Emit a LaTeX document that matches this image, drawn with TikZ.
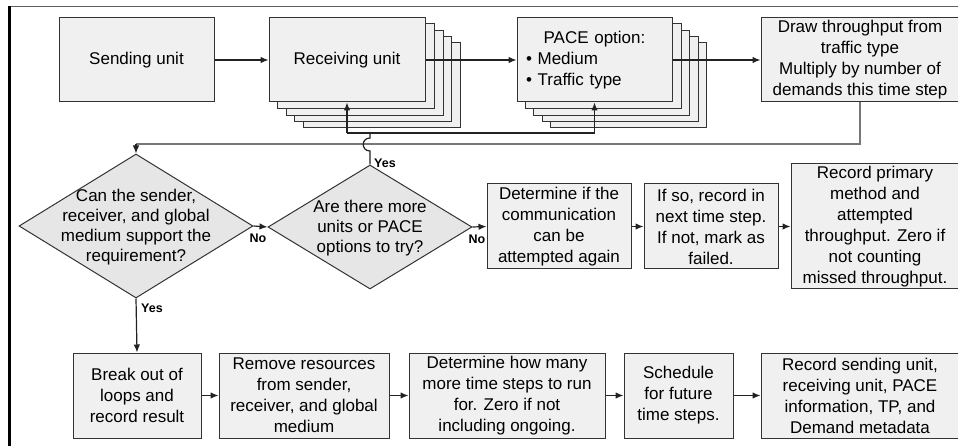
\documentclass[tikz,border=0pt]{standalone}
\usepackage{fontspec}
\setmainfont{Liberation Sans}
\usetikzlibrary{shapes.geometric,arrows.meta,calc}
\pgfdeclarelayer{background}
\pgfsetlayers{background,main}
\definecolor{boxline}{HTML}{333333}
\definecolor{boxfill}{HTML}{F0F0F0}
\definecolor{diafill}{HTML}{E6E6E6}
\definecolor{lineclr}{HTML}{222222}
\definecolor{loopclr}{HTML}{777777}
\begin{document}
\begin{tikzpicture}[x=1pt,y=-1pt,
  box/.style={draw=boxline, fill=boxfill, line width=1pt, inner sep=0pt, align=center,
    font=\fontsize{17}{21}\selectfont},
  dia/.style={diamond, draw=boxline, fill=diafill, line width=1pt, inner sep=0pt},
  diatext/.style={align=center, font=\fontsize{17}{20}\selectfont, inner sep=0pt},
  conn/.style={draw=lineclr, line width=1.2pt},
  arr/.style={conn, -{Latex[length=8pt,width=6.5pt]}},
  yn/.style={font=\fontsize{12.5}{14}\selectfont\bfseries, text=black, inner sep=0pt}
]
\useasboundingbox (0,0) rectangle (958,446);
\clip (0,0) rectangle (958,446);

% top row
\node[box, minimum width=155pt, minimum height=84pt] (send) at (136.5,60) {Sending unit};
\node[box, minimum width=156pt, minimum height=84pt] (rec) at (347,60) {Receiving unit};
\node[box, minimum width=155pt, minimum height=84pt, text width=137pt] (pace) at (594.5,60)
  {\centering PACE option:\par\raggedright • Medium\par • Traffic type\par};
\node[box, minimum width=198pt, minimum height=84pt] (draw) at (860,60)
  {Draw throughput from\\traffic type\\Multiply by number of\\demands this time step};

% background, frame and stacks behind
\begin{pgfonlayer}{background}
  \fill[white] (0,0) rectangle (958,446);
  \draw[loopclr!80!black, line width=1pt] (9.5,7) -- (960,7);
  \draw[black, line width=2.4pt] (9.5,6.5) -- (9.5,450);
  \foreach \k in {4,3,2,1}{
    \draw[draw=boxline, fill=boxfill, line width=1pt]
      ([shift={(8.8*\k,6.3*\k)}]rec.north west) rectangle ([shift={(8.8*\k,6.3*\k)}]rec.south east);
    \draw[draw=boxline, fill=boxfill, line width=1pt]
      ([shift={(8.6*\k,6.3*\k)}]pace.north west) rectangle ([shift={(8.6*\k,6.3*\k)}]pace.south east);
  }
\end{pgfonlayer}

% diamonds
\node[dia, minimum width=234pt, minimum height=144pt] (d1) at (136,226) {};
\node[diatext] (d1t) at (136,227) {Can the sender,\\receiver, and global\\medium support the\\requirement?};
\node[dia, minimum width=204pt, minimum height=124pt] (d2) at (370,227) {};
\node[diatext] (d2t) at (370,228) {Are there more\\units or PACE\\options to try?};

% middle row
\node[box, minimum width=144pt, minimum height=85pt] (det) at (559,226.5)
  {Determine if the\\communication\\can be\\attempted again};
\node[box, minimum width=134pt, minimum height=85pt] (ifso) at (711,226.5)
  {If so, record in\\next time step.\\If not, mark as\\failed.};
\node[box, minimum width=168pt, minimum height=125pt] (prim) at (875,226.5)
  {Record primary\\method and\\attempted\\throughput. Zero if\\not counting\\missed throughput.};

% bottom row
\node[box, minimum width=128pt, minimum height=85pt] (brk) at (137,395.5)
  {Break out of\\loops and\\record result};
\node[box, minimum width=170pt, minimum height=85pt] (rem) at (304,395.5)
  {Remove resources\\from sender,\\receiver, and global\\medium};
\node[box, minimum width=196pt, minimum height=85pt] (hmany) at (507,395.5)
  {Determine how many\\more time steps to run\\for. Zero if not\\including ongoing.};
\node[box, minimum width=109pt, minimum height=85pt] (sched) at (678.5,395.5)
  {Schedule\\for future\\time steps.};
\node[box, minimum width=198pt, minimum height=85pt] (rsend) at (860,395.5)
  {Record sending unit,\\receiving unit, PACE\\information, TP, and\\Demand metadata};

% helper coordinates
\coordinate (loopy) at (0,144);
\coordinate (yesy) at (0,133);
\coordinate (hopA) at (370,151);
\coordinate (hopB) at (370,138);

% connectors top row
\draw[arr] (send.east) -- (rec.west);
\draw[arr] (rec.east) -- (pace.west);
\draw[arr] (pace.east) -- (draw.west);

% main loop back
\draw[conn, draw=loopclr] (draw.south) -- (draw.south |- loopy) -- (d1.north |- loopy);
\draw[arr] (d1.north |- loopy) -- (d1.north);

% yes loop from d2
\draw[conn] (d2.north) -- (hopA) .. controls +(-9,0) and +(-9,0) .. (hopB) -- (d2.north |- yesy);
\draw[conn] (rec.south |- yesy) -- (pace.south |- yesy);
\draw[arr] (rec.south |- yesy) -- (rec.south);
\draw[arr] (pace.south |- yesy) -- (pace.south);

% decisions
\draw[arr] (d1.east) -- (d2.west);
\draw[arr] (d2.east) -- (det.west);
\draw[arr] (det.east) -- (ifso.west);
\draw[arr] (ifso.east) -- (prim.west);
\draw[arr] (d1.south) -- (brk.north);

% bottom row
\draw[arr] (brk.east) -- (rem.west);
\draw[arr] (rem.east) -- (hmany.west);
\draw[arr] (hmany.east) -- (sched.west);
\draw[arr] (sched.east) -- (rsend.west);

% labels
\node[yn] (no1) at (258,238) {No};
\node[yn] (no2) at (477,239) {No};
\node[yn] (yes1) at (385,163) {Yes};
\node[yn] (yes2) at (152,308) {Yes};
\end{tikzpicture}
\end{document}
